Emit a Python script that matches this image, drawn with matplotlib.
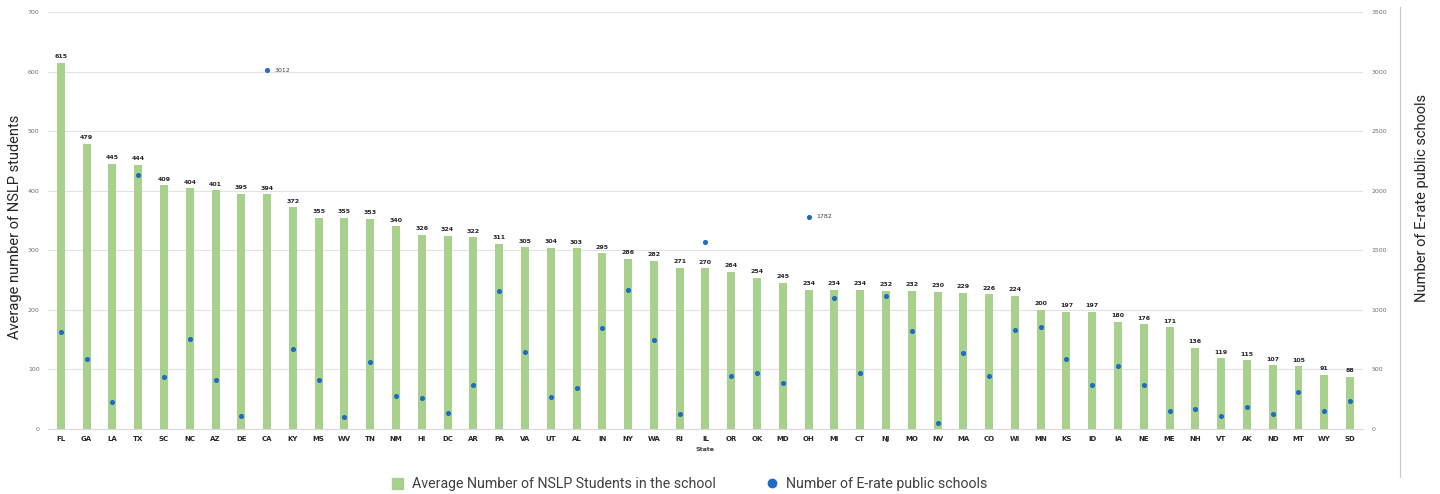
import matplotlib
matplotlib.use("Agg")
import matplotlib.pyplot as plt
from matplotlib.lines import Line2D
from matplotlib.patches import Patch
import numpy as np

states = ["FL", "GA", "LA", "TX", "SC", "NC", "AZ", "DE", "CA", "KY", "MS", "WV", "TN",
          "NM", "HI", "DC", "AR", "PA", "VA", "UT", "AL", "IN", "NY", "WA", "RI", "IL",
          "OR", "OK", "MD", "OH", "MI", "CT", "NJ", "MO", "NV", "MA", "CO", "WI", "MN",
          "KS", "ID", "IA", "NE", "ME", "NH", "VT", "AK", "ND", "MT", "WY", "SD"]
nslp_avg = [615, 479, 445, 444, 409, 404, 401, 395, 394, 372, 355, 355, 353,
            340, 326, 324, 322, 311, 305, 304, 303, 295, 286, 282, 271, 270,
            264, 254, 245, 234, 234, 234, 232, 232, 230, 229, 226, 224, 200,
            197, 197, 180, 176, 171, 136, 119, 115, 107, 105, 91, 88]
erate_schools = [814, 590, 227, 2129, 439, 755, 411, 112, 3012, 674, 411, 101, 560,
                 274, 257, 134, 372, 1158, 646, 269, 341, 848, 1170, 744, 129, 1567,
                 445, 467, 383, 1782, 1100, 473, 1119, 825, 50, 641, 448, 831, 859,
                 590, 367, 526, 372, 154, 171, 112, 187, 126, 308, 148, 235]
labelled_points = ["CA", "OH"]

green = "#a9d18e"
blue = "#1f6bc1"
title_font = ["Roboto", "DejaVu Sans"]

fig = plt.figure(figsize=(14.4, 4.94), dpi=100)
ax = fig.add_axes([0.0333, 0.1316, 0.9132, 0.8441])
ax2 = ax.twinx()

x = np.arange(len(states))
ax.bar(x, nslp_avg, width=0.31, color=green, zorder=2)
for xi, v in zip(x, nslp_avg):
    ax.text(xi, v + 6, str(v), ha="center", va="bottom", fontsize=4.5,
            fontweight="bold", color="#262626")

ax2.scatter(x, erate_schools, s=7, color=blue, zorder=3)
for name in labelled_points:
    i = states.index(name)
    ax2.text(i + 0.3, erate_schools[i], str(erate_schools[i]), ha="left",
             va="center", fontsize=4.5, color="#404040")

ax.set_xlim(-0.5, len(states) - 0.5)
ax.set_ylim(0, 700)
ax2.set_ylim(0, 3500)
ax.set_yticks(range(0, 701, 100))
ax2.set_yticks(range(0, 3501, 500))
ax.grid(axis="y", color="#e3e3e3", linewidth=0.8, zorder=0)
ax.set_axisbelow(True)

for a in (ax, ax2):
    for s in a.spines.values():
        s.set_visible(False)
    a.tick_params(axis="y", length=0, labelsize=4.5, labelcolor="#707070", pad=6)
ax.spines["bottom"].set_visible(True)
ax.spines["bottom"].set_color("#d9d9d9")

ax.set_xticks(x)
ax.set_xticklabels(states, fontsize=5, fontweight="bold", color="#262626")
ax.tick_params(axis="x", length=0, pad=5)
ax.set_xlabel("State", fontsize=4.5, fontweight="bold", color="#404040", labelpad=4)

fig.text(0.0105, 0.54, "Average number of NSLP students", rotation=90, ha="center",
         va="center", fontsize=10.5, color="#262626", family=title_font)
fig.text(0.9875, 0.60, "Number of E-rate public schools", rotation=90, ha="center",
         va="center", fontsize=10.5, color="#262626", family=title_font)
fig.add_artist(Line2D([1400 / 1440, 1400 / 1440], [1 - 7 / 494, 1 - 477 / 494],
                      color="#c8c8c8", linewidth=0.8))

handles = [Patch(color=green),
           Line2D([], [], marker="o", linestyle="", color=blue, markersize=6)]
fig.legend(handles, ["Average Number of NSLP Students in the school",
                     "Number of E-rate public schools"],
           loc="center", bbox_to_anchor=(0.479, 0.02), ncol=2, frameon=False,
           prop={"family": title_font, "size": 10.2}, columnspacing=3.6,
           handlelength=0.8, handleheight=0.8, handletextpad=0.6,
           labelcolor="#404040")

fig.savefig("out.png", dpi=100)
